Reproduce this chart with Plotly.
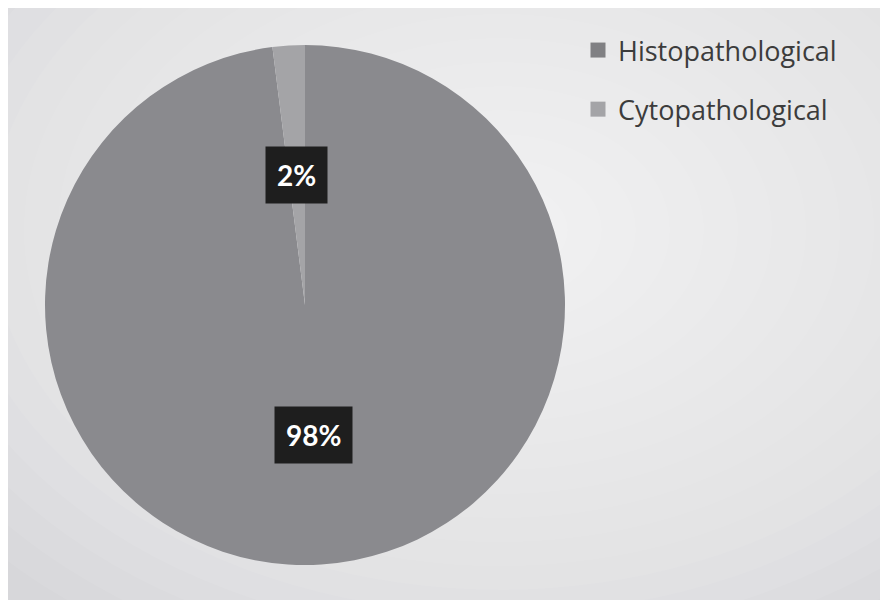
import math
import plotly.graph_objects as go

# ---- data ----
categories = ["Histopathological", "Cytopathological"]
values = [98, 2]
label_texts = ["98%", "2%"]
slice_colors = ["#8a8a8e", "#a4a4a7"]
legend_colors = ["#808083", "#a4a4a7"]

W, H = 888, 600
OFF = 8  # page body margin
CX, CY, R = 305 - OFF, 305 - OFF, 260  # pie centre / radius in pixels

def px(x):
    return x / W

def py(y):
    return 1 - y / H

fig = go.Figure()

fig.add_trace(go.Pie(
    labels=categories,
    values=values,
    sort=False,
    direction="clockwise",
    rotation=0,
    marker=dict(colors=slice_colors, line=dict(width=0)),
    textinfo="none",
    hoverinfo="label+percent",
    showlegend=False,
    domain=dict(x=[px(CX - R), px(CX + R)], y=[py(CY + R), py(CY - R)]),
))

# legend via dummy traces
for i, (name, col) in enumerate(zip(categories, legend_colors)):
    fig.add_trace(go.Scatter(
        x=[None], y=[None], mode="markers", name=name,
        legendgroup=f"g{i}",
        marker=dict(symbol="square", size=15, color=col),
    ))

# background: base rect + radial lightening
shapes = [dict(type="rect", xref="paper", yref="paper",
               x0=px(6 - OFF), x1=px(900), y0=py(610), y1=py(5 - OFF),
               fillcolor="#d7d7da", line=dict(color="#c4c4c6", width=1), layer="below")]
n = 20
for k in range(n):
    f = 1 - k / n
    rx, ry = 680 * f, 480 * f
    gx, gy = 500 - OFF, 230 - OFF
    shapes.append(dict(type="circle", xref="paper", yref="paper",
                       x0=px(gx - rx), x1=px(gx + rx), y0=py(gy + ry), y1=py(gy - ry),
                       fillcolor="rgba(255,255,255,0.065)", line=dict(width=0), layer="below"))

# data labels computed from values
total = sum(values)
annotations = []
cum = 0
for v, t in zip(values, label_texts):
    theta = math.radians((cum + v / 2) / total * 360)
    cum += v
    lx = CX + 0.5 * R * math.sin(theta)
    ly = CY - 0.5 * R * math.cos(theta)
    annotations.append(dict(x=px(lx), y=py(ly), xref="paper", yref="paper",
                            xanchor="center", yanchor="middle",
                            text=f"<b>{t}</b>", showarrow=False,
                            font=dict(family="Lato", size=28, color="white"),
                            bgcolor="#1e1e1e", borderpad=11))

fig.update_layout(
    width=W, height=H,
    margin=dict(l=0, r=0, t=0, b=0),
    paper_bgcolor="white",
    plot_bgcolor="rgba(0,0,0,0)",
    xaxis=dict(visible=False),
    yaxis=dict(visible=False),
    shapes=shapes,
    annotations=annotations,
    showlegend=True,
    legend=dict(x=px(578 - OFF), y=py(26 - OFF), xanchor="left", yanchor="top",
                bgcolor="rgba(0,0,0,0)", tracegroupgap=21,
                font=dict(family="Open Sans", size=27, color="#3c3c3c"),
                itemclick=False),
)

fig.write_html("out.html")
